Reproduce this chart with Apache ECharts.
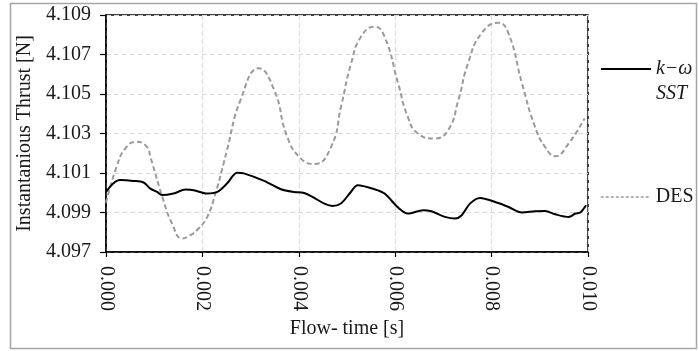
<!DOCTYPE html>
<html>
<head>
<meta charset="utf-8">
<script src="https://cdn.jsdelivr.net/npm/echarts@6/dist/echarts.min.js"></script>
<style>
  html, body { margin: 0; padding: 0; background: #fff; }
  #chart { width: 699px; height: 351px; }
</style>
</head>
<body>
<div id="chart"></div>
<script>
// k-omega SST thrust history
var sstTime = [0.0000, 0.00015, 0.00029, 0.00057, 0.00078, 0.00092, 0.00106, 0.00116, 0.00140, 0.00165,
  0.00182, 0.00210, 0.00231, 0.00251, 0.00272, 0.00286, 0.00328, 0.00363, 0.00390, 0.00411,
  0.00432, 0.00453, 0.00470, 0.00488, 0.00508, 0.00522, 0.00557, 0.00578, 0.00606, 0.00626,
  0.00658, 0.00675, 0.00703, 0.00724, 0.00738, 0.00755, 0.00776, 0.00814, 0.00835, 0.00863,
  0.00890, 0.00911, 0.00932, 0.00960, 0.00974, 0.00984, 0.00996];
var sstThrust = [4.10004, 4.10047, 4.10064, 4.10060, 4.10052, 4.10021, 4.10004, 4.09988, 4.09996, 4.10016,
  4.10013, 4.09996, 4.10004, 4.10047, 4.10101, 4.10098, 4.10060, 4.10018, 4.10004, 4.09999,
  4.09974, 4.09945, 4.09933, 4.09947, 4.10004, 4.10038, 4.10018, 4.09996, 4.09925, 4.09895,
  4.09911, 4.09906, 4.09878, 4.09869, 4.09886, 4.09945, 4.09974, 4.09948, 4.09928, 4.09900,
  4.09906, 4.09908, 4.09891, 4.09877, 4.09895, 4.09900, 4.09937];

// DES thrust history
var desTime = [0.0000, 0.00022, 0.00040, 0.00063, 0.00085, 0.00092, 0.00119, 0.00137, 0.00158, 0.00175,
  0.00192, 0.00210, 0.00227, 0.00244, 0.00251, 0.00279, 0.00317, 0.00349, 0.00376, 0.00404,
  0.00432, 0.00467, 0.00488, 0.00508, 0.00529, 0.00557, 0.00578, 0.00606, 0.00626, 0.00647,
  0.00682, 0.00710, 0.00731, 0.00751, 0.00779, 0.00814, 0.00835, 0.00863, 0.00890, 0.00911,
  0.00932, 0.00960, 0.00993];
var desThrust = [4.09950, 4.10131, 4.10224, 4.10258, 4.10232, 4.10182, 4.09962, 4.09844, 4.09768, 4.09785,
  4.09819, 4.09878, 4.09996, 4.10148, 4.10216, 4.10469, 4.10630, 4.10520, 4.10283, 4.10174,
  4.10145, 4.10232, 4.10440, 4.10650, 4.10790, 4.10841, 4.10790, 4.10554, 4.10385, 4.10300,
  4.10275, 4.10317, 4.10469, 4.10655, 4.10807, 4.10861, 4.10807, 4.10554, 4.10334, 4.10232,
  4.10185, 4.10250, 4.10376];

var pairs = function (xs, ys) {
  return xs.map(function (x, i) { return [x, ys[i]]; });
};

var serif = '"Liberation Serif", "DejaVu Serif", serif';
var ink = '#1a1a1a';

var myChart = echarts.init(document.getElementById('chart'));

var option = {
  backgroundColor: '#fff',
  animation: false,
  textStyle: { fontFamily: serif, color: ink },
  graphic: [
    {
      type: 'rect',
      shape: { x: 10.5, y: 3.5, width: 686, height: 345 },
      style: { fill: 'none', stroke: '#a6a6a6', lineWidth: 1.5 },
      silent: true
    }
  ],
  grid: {
    left: 106, top: 15, width: 482, bottom: 99,
    show: true, borderColor: '#000', borderWidth: 1.5, backgroundColor: 'transparent'
  },
  legend: [
    {
      data: ['k−ω SST'],
      orient: 'vertical',
      left: 600, top: 34, padding: 0,
      itemWidth: 50, itemHeight: 14, itemGap: 0,
      itemStyle: { opacity: 0 },
      formatter: function () { return '{e| }\n{a|k−ω}\n{a|SST}'; },
      textStyle: {
        fontFamily: serif, color: ink, fontSize: 20,
        rich: {
          e: { lineHeight: 25, fontSize: 20 },
          a: { lineHeight: 25, fontSize: 20, fontStyle: 'italic', fontFamily: serif, color: ink }
        }
      }
    },
    {
      data: ['DES'],
      left: 600, top: 187, padding: 0,
      itemWidth: 50, itemHeight: 14,
      itemStyle: { opacity: 0 },
      lineStyle: { width: 1.5, type: [3, 2] },
      textStyle: { fontFamily: serif, color: ink, fontSize: 20, lineHeight: 20 }
    }
  ],
  xAxis: {
    type: 'value',
    min: 0, max: 0.01, interval: 0.002,
    name: 'Flow- time [s]',
    nameLocation: 'middle', nameGap: 64,
    nameTextStyle: { fontFamily: serif, fontSize: 20, color: ink },
    axisLine: { show: true, lineStyle: { color: '#000', width: 1.5 } },
    axisTick: { show: true, length: 5, lineStyle: { color: '#000', width: 1.2 } },
    axisLabel: {
      rotate: -90, margin: 14, fontFamily: serif, fontSize: 20, color: ink,
      formatter: function (v) { return v.toFixed(3); }
    },
    splitLine: { show: true, lineStyle: { color: '#dcdcdc', width: 1.2, type: [5, 3] } }
  },
  yAxis: {
    type: 'value',
    min: 4.097, max: 4.109, interval: 0.002,
    name: 'Instantanious Thrust [N]',
    nameLocation: 'middle', nameGap: 66,
    nameTextStyle: { fontFamily: serif, fontSize: 20, color: ink },
    axisLine: { show: true, lineStyle: { color: '#000', width: 1.5 } },
    axisTick: { show: true, length: 6, lineStyle: { color: '#000', width: 1.2 } },
    axisLabel: {
      margin: 15, fontFamily: serif, fontSize: 20, color: ink,
      formatter: function (v) { return v.toFixed(3); }
    },
    splitLine: { show: true, lineStyle: { color: '#dcdcdc', width: 1.2, type: [5, 3] } }
  },
  series: [
    {
      name: 'k−ω SST',
      type: 'line',
      data: pairs(sstTime, sstThrust),
      symbol: 'none',
      smooth: 0.3,
      lineStyle: { color: '#000', width: 2 },
      itemStyle: { color: '#000' },
      z: 3
    },
    {
      name: 'DES',
      type: 'line',
      data: pairs(desTime, desThrust),
      symbol: 'none',
      smooth: 0.5,
      lineStyle: { color: '#9a9a9a', width: 2, type: [5, 3] },
      itemStyle: { color: '#9a9a9a' },
      z: 2
    }
  ]
};

myChart.setOption(option);
</script>
</body>
</html>
